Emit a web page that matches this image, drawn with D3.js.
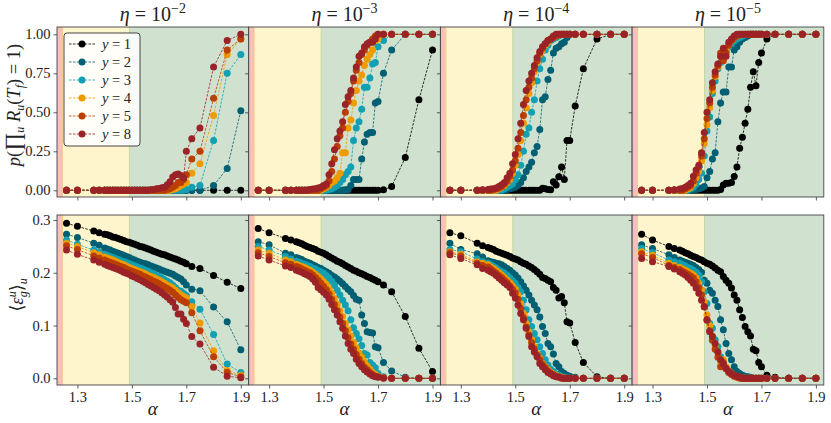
<!DOCTYPE html>
<html><head><meta charset="utf-8">
<script src="https://cdn.jsdelivr.net/npm/d3@7"></script>
<style>
body{margin:0;background:#fff}
svg{display:block}
text{font-family:"Liberation Serif","DejaVu Serif",serif;fill:#222}
</style>
</head><body>
<svg id="c" width="831" height="423"></svg>
<script>
// ---------------- DATA ----------------
const alpha = [1.26,1.30,1.36,1.38,1.40,1.41,1.42,1.43,1.44,1.45,1.46,1.47,1.48,1.49,1.50,1.51,1.52,1.53,1.54,1.55,1.56,1.57,1.58,1.59,1.60,1.61,1.62,1.63,1.64,1.65,1.66,1.67,1.68,1.69,1.70,1.72,1.75,1.80,1.85,1.90];
const yValues = [1,2,3,4,5,8];
const etaExponents = ["−2","−3","−4","−5"];
const xTicks = [1.3,1.5,1.7,1.9];
const pTicks = [0,0.25,0.5,0.75,1.0];
const eTicks = [0,0.1,0.2,0.3];

// top row: p(prod R_u = 1), eta = 1e-2
const pA1 = [0,0,0,0,0,0,0,0,0,0, 0,0,0,0,0,0,0,0,0,0, 0,0,0,0,0,0,0,0,0,0, 0,0,0,0,0,0,0,0,0,0];
const pA2 = [0,0,0,0,0,0,0,0,0,0, 0,0,0,0,0,0,0,0,0,0, 0,0,0,0,0,0,0,0,0,0, 0,0,0,0,0,0,0,0.03,0.14,0.51];
const pA3 = [0,0,0,0,0,0,0,0,0,0, 0,0,0,0,0,0,0,0,0,0, 0,0,0,0,0,0,0,0,0,0, 0,0,0,0,0.005,0.02,0.03,0.32,0.75,0.87];
const pA4 = [0,0,0,0,0,0,0,0,0,0, 0,0,0,0,0,0,0,0,0,0, 0,0,0,0,0,0,0,0,0,0.005, 0.01,0.02,0.03,0.04,0.05,0.11,0.17,0.48,0.87,0.97];
const pA5 = [0,0,0,0,0,0,0,0,0,0, 0,0,0,0,0,0,0,0,0,0, 0,0,0,0,0,0,0,0.005,0.01,0.02, 0.03,0.05,0.05,0.07,0.10,0.20,0.25,0.59,0.90,0.97];
const pA8 = [0,0,0,0,0,0,0,0,0,0, 0,0,0,0,0,0,0,0,0,0, 0,0.003,0.005,0.01,0.012,0.016,0.02,0.035,0.055,0.085, 0.10,0.105,0.095,0.08,0.25,0.33,0.40,0.79,0.96,1.00];
// eta = 1e-3
const pB1 = [0,0,0,0,0,0,0,0,0,0, 0,0,0,0,0,0,0,0,0,0, 0,0,0,0,0,0,0,0,0,0, 0,0,0,0,0,0.003,0.024,0.21,0.58,0.90];
const pB2 = [0,0,0,0,0,0,0,0,0,0, 0,0,0,0,0,0,0,0,0,0, 0,0,0.003,0.005,0.03,0.07,0.07,0.07,0.20,0.31, 0.36,0.37,0.37,0.56,0.57,0.75,0.90,1,1,1];
const pB3 = [0,0,0,0,0,0,0,0,0,0, 0,0,0,0,0,0,0.005,0.01,0.02,0.03, 0.05,0.07,0.10,0.12,0.15,0.32,0.40,0.44,0.52,0.66, 0.66,0.72,0.81,0.82,0.92,0.96,1,1,1,1];
const pB4 = [0,0,0,0,0,0,0,0,0,0, 0,0,0,0,0.01,0.02,0.03,0.05,0.06,0.08, 0.11,0.24,0.24,0.40,0.45,0.56,0.64,0.70,0.74,0.80, 0.84,0.87,0.90,0.96,0.97,1,1,1,1,1];
const pB5 = [0,0,0,0,0,0,0,0,0,0, 0,0,0,0.01,0.02,0.03,0.06,0.12,0.20,0.28, 0.35,0.40,0.50,0.57,0.62,0.70,0.77,0.82,0.87,0.90, 0.93,0.95,0.97,0.99,1,1,1,1,1,1];
const pB8 = [0,0,0,0,0,0,0,0,0,0.005, 0.008,0.01,0.015,0.02,0.03,0.04,0.10,0.17,0.26,0.33, 0.38,0.44,0.55,0.60,0.64,0.72,0.79,0.86,0.88,0.92, 0.94,0.95,0.95,0.97,1,1,1,1,1,1];
// eta = 1e-4
const pC1 = [0,0,0,0,0,0,0,0,0,0, 0,0,0,0,0,0,0,0,0,0, 0,0,0,0,0.013,0.010,0.005,0.003,0.055,0.034, 0.087,0.15,0.07,0.32,0.32,0.54,0.78,0.97,1,1];
const pC2 = [0,0,0,0,0,0,0,0,0,0, 0,0.005,0.01,0.015,0.02,0.03,0.05,0.08,0.12,0.15, 0.18,0.24,0.28,0.39,0.58,0.60,0.71,0.77,0.88,0.91, 0.92,0.94,0.95,0.98,1,1,1,1,1,1];
const pC3 = [0,0,0,0,0,0,0,0,0,0, 0.01,0.02,0.03,0.04,0.07,0.10,0.16,0.25,0.36,0.40, 0.50,0.58,0.70,0.78,0.84,0.90,0.93,0.96,0.97,0.98, 0.99,1,1,1,1,1,1,1,1,1];
const pC4 = [0,0,0,0,0,0,0,0,0.01,0.02, 0.03,0.05,0.07,0.11,0.16,0.23,0.32,0.43,0.53,0.62, 0.69,0.76,0.82,0.87,0.90,0.93,0.95,0.97,0.98,0.99, 1,1,1,1,1,1,1,1,1,1];
const pC5 = [0,0,0,0,0,0,0.005,0.01,0.015,0.025, 0.04,0.06,0.09,0.13,0.19,0.27,0.37,0.48,0.58,0.66, 0.72,0.78,0.83,0.88,0.91,0.94,0.96,0.97,0.98,0.99, 1,1,1,1,1,1,1,1,1,1];
const pC8 = [0,0,0,0.003,0.005,0.008,0.01,0.015,0.025,0.035, 0.05,0.08,0.11,0.17,0.23,0.33,0.43,0.55,0.64,0.70, 0.75,0.80,0.85,0.89,0.92,0.94,0.96,0.97,0.99,1, 1,1,1,1,1,1,1,1,1,1];
// eta = 1e-5
const pD1 = [0,0,0,0,0,0,0,0,0,0, 0,0,0,0,0,0,0,0,0,0.005, 0.034,0.045,0.045,0.05,0.088,0.15,0.27,0.34,0.43,0.52, 0.66,0.76,0.67,0.82,0.88,0.97,1,1,1,1];
const pD2 = [0,0,0,0,0,0,0,0,0,0, 0.005,0.01,0.015,0.025,0.08,0.12,0.20,0.24,0.44,0.56, 0.63,0.63,0.79,0.79,0.90,0.92,0.95,0.97,0.98,0.99, 1,1,1,1,1,1,1,1,1,1];
const pD3 = [0,0,0,0,0,0,0,0,0.01,0.02, 0.04,0.07,0.11,0.22,0.38,0.47,0.62,0.70,0.78,0.82, 0.86,0.89,0.92,0.94,0.96,0.97,0.98,0.99,0.995,1, 1,1,1,1,1,1,1,1,1,1];
const pD4 = [0,0,0,0,0,0,0,0.01,0.02,0.04, 0.08,0.12,0.19,0.30,0.42,0.53,0.64,0.73,0.79,0.86, 0.88,0.90,0.93,0.96,0.98,0.99,1,1,1,1, 1,1,1,1,1,1,1,1,1,1];
const pD5 = [0,0,0,0,0,0,0.01,0.02,0.03,0.06, 0.11,0.15,0.22,0.33,0.46,0.56,0.66,0.74,0.80,0.88, 0.83,0.88,0.93,0.96,0.98,0.99,1,1,1,1, 1,1,1,1,1,1,1,1,1,1];
const pD8 = [0,0,0,0.003,0.008,0.012,0.02,0.03,0.045,0.09, 0.13,0.16,0.24,0.37,0.50,0.58,0.69,0.76,0.81,0.86, 0.91,0.86,0.95,0.97,0.99,1,1,1,1,1, 1,1,1,1,1,1,1,1,1,1];

// bottom row: <eps_g^u>_u, eta = 1e-2
const eA1 = [0.294,0.288,0.279,0.276,0.273,0.272,0.270,0.268,0.267,0.265, 0.263,0.261,0.259,0.258,0.256,0.254,0.252,0.250,0.249,0.247, 0.245,0.243,0.241,0.239,0.237,0.235,0.234,0.232,0.230,0.228, 0.226,0.224,0.222,0.220,0.217,0.212,0.208,0.195,0.182,0.170];
const eA2 = [0.273,0.267,0.256,0.252,0.247,0.245,0.243,0.241,0.239,0.237, 0.235,0.233,0.231,0.229,0.226,0.224,0.222,0.220,0.218,0.217, 0.215,0.213,0.211,0.209,0.207,0.205,0.203,0.201,0.199,0.197, 0.194,0.191,0.188,0.183,0.177,0.169,0.166,0.135,0.107,0.054];
const eA3 = [0.262,0.254,0.243,0.239,0.235,0.233,0.231,0.229,0.227,0.225, 0.223,0.221,0.219,0.217,0.215,0.213,0.211,0.209,0.207,0.205, 0.203,0.200,0.198,0.195,0.193,0.190,0.187,0.184,0.181,0.177, 0.172,0.167,0.165,0.161,0.157,0.145,0.131,0.083,0.027,0.011];
const eA4 = [0.256,0.250,0.238,0.234,0.230,0.228,0.226,0.224,0.222,0.219, 0.217,0.215,0.213,0.210,0.208,0.206,0.204,0.202,0.200,0.198, 0.195,0.193,0.191,0.188,0.186,0.183,0.180,0.177,0.174,0.171, 0.167,0.162,0.158,0.155,0.152,0.136,0.105,0.052,0.015,0.006];
const eA5 = [0.251,0.244,0.232,0.228,0.224,0.222,0.220,0.218,0.216,0.214, 0.212,0.210,0.207,0.205,0.203,0.201,0.199,0.197,0.194,0.192, 0.189,0.187,0.184,0.182,0.179,0.176,0.173,0.170,0.167,0.163, 0.158,0.153,0.149,0.146,0.143,0.124,0.090,0.041,0.011,0.003];
const eA8 = [0.243,0.235,0.224,0.220,0.216,0.214,0.212,0.210,0.208,0.206, 0.204,0.201,0.199,0.197,0.194,0.192,0.189,0.187,0.184,0.181, 0.178,0.175,0.172,0.169,0.166,0.162,0.158,0.154,0.149,0.144, 0.134,0.122,0.122,0.112,0.104,0.079,0.065,0.021,0.004,0.001];
// eta = 1e-3
const eB1 = [0.284,0.276,0.265,0.262,0.259,0.257,0.255,0.252,0.250,0.248, 0.246,0.244,0.241,0.239,0.237,0.234,0.231,0.228,0.225,0.222, 0.220,0.217,0.214,0.211,0.208,0.205,0.203,0.200,0.198,0.196, 0.193,0.191,0.188,0.186,0.183,0.177,0.164,0.117,0.057,0.013];
const eB2 = [0.259,0.253,0.237,0.234,0.229,0.227,0.225,0.222,0.220,0.218, 0.215,0.213,0.210,0.208,0.205,0.202,0.199,0.195,0.192,0.188, 0.184,0.179,0.174,0.169,0.164,0.157,0.150,0.148,0.120,0.104, 0.088,0.087,0.086,0.060,0.058,0.030,0.014,0.002,0,0];
const eB3 = [0.250,0.243,0.231,0.226,0.222,0.220,0.218,0.216,0.214,0.212, 0.209,0.207,0.204,0.202,0.199,0.195,0.190,0.184,0.176,0.167, 0.158,0.148,0.139,0.128,0.111,0.096,0.085,0.075,0.062,0.047, 0.044,0.030,0.025,0.020,0.009,0.003,0,0,0,0];
const eB4 = [0.243,0.237,0.224,0.221,0.216,0.214,0.212,0.210,0.207,0.205, 0.201,0.197,0.193,0.188,0.183,0.178,0.170,0.161,0.151,0.140, 0.128,0.117,0.104,0.092,0.080,0.068,0.058,0.048,0.040,0.031, 0.024,0.017,0.011,0.007,0.004,0.001,0,0,0,0];
const eB5 = [0.238,0.231,0.219,0.216,0.212,0.210,0.207,0.205,0.202,0.200, 0.196,0.191,0.186,0.180,0.174,0.168,0.160,0.150,0.140,0.128, 0.116,0.104,0.090,0.077,0.065,0.055,0.045,0.036,0.028,0.021, 0.016,0.011,0.007,0.004,0.003,0.001,0,0,0,0];
const eB8 = [0.232,0.224,0.213,0.210,0.205,0.203,0.201,0.198,0.196,0.193, 0.188,0.182,0.172,0.168,0.163,0.158,0.150,0.140,0.130,0.120, 0.107,0.095,0.080,0.066,0.055,0.047,0.036,0.028,0.022,0.016, 0.012,0.008,0.005,0.003,0.002,0,0,0,0,0];
// eta = 1e-4
const eC1 = [0.276,0.270,0.256,0.251,0.248,0.246,0.244,0.241,0.239,0.237, 0.235,0.233,0.231,0.228,0.226,0.224,0.221,0.218,0.216,0.213, 0.210,0.206,0.202,0.197,0.191,0.189,0.186,0.183,0.172,0.167, 0.152,0.155,0.143,0.107,0.105,0.068,0.030,0.003,0,0];
const eC2 = [0.256,0.244,0.236,0.230,0.223,0.221,0.220,0.218,0.217,0.215, 0.212,0.208,0.205,0.200,0.196,0.190,0.183,0.175,0.167,0.158, 0.148,0.139,0.130,0.116,0.098,0.085,0.066,0.060,0.046,0.028, 0.022,0.013,0.009,0.006,0.004,0.002,0,0,0,0];
const eC3 = [0.244,0.240,0.226,0.221,0.218,0.215,0.212,0.209,0.205,0.202, 0.199,0.195,0.190,0.185,0.180,0.172,0.164,0.148,0.130,0.111, 0.098,0.085,0.073,0.060,0.047,0.035,0.025,0.017,0.013,0.008, 0.006,0.003,0.002,0,0,0,0,0,0,0];
const eC4 = [0.240,0.235,0.221,0.218,0.215,0.211,0.208,0.204,0.200,0.196, 0.191,0.186,0.181,0.175,0.169,0.158,0.142,0.123,0.104,0.088, 0.073,0.060,0.047,0.038,0.028,0.022,0.016,0.011,0.008,0.005, 0.003,0.002,0,0,0,0,0,0,0,0];
const eC5 = [0.238,0.232,0.218,0.214,0.211,0.207,0.203,0.199,0.195,0.191, 0.186,0.181,0.175,0.169,0.162,0.150,0.133,0.115,0.097,0.082, 0.068,0.056,0.044,0.035,0.026,0.020,0.014,0.010,0.007,0.004, 0.003,0.001,0,0,0,0,0,0,0,0];
const eC8 = [0.234,0.227,0.215,0.208,0.205,0.202,0.199,0.195,0.190,0.186, 0.181,0.177,0.172,0.161,0.152,0.139,0.123,0.111,0.095,0.079, 0.060,0.050,0.041,0.028,0.022,0.016,0.011,0.008,0.005,0.003, 0.002,0,0,0,0,0,0,0,0,0];
// eta = 1e-5
const eD1 = [0.273,0.262,0.250,0.246,0.243,0.241,0.238,0.236,0.233,0.231, 0.229,0.226,0.224,0.221,0.218,0.216,0.213,0.209,0.205,0.202, 0.193,0.186,0.180,0.171,0.158,0.148,0.130,0.115,0.098,0.088, 0.080,0.055,0.052,0.030,0.022,0.006,0.002,0,0,0];
const eD2 = [0.253,0.246,0.234,0.229,0.224,0.222,0.220,0.218,0.216,0.214, 0.210,0.206,0.201,0.186,0.180,0.167,0.161,0.148,0.136,0.111, 0.092,0.066,0.047,0.035,0.022,0.013,0.009,0.006,0.004,0.003, 0.002,0,0,0,0,0,0,0,0,0];
const eD3 = [0.246,0.238,0.224,0.221,0.218,0.215,0.213,0.210,0.208,0.205, 0.201,0.196,0.183,0.164,0.142,0.104,0.095,0.073,0.060,0.041, 0.028,0.019,0.013,0.009,0.006,0.003,0.002,0,0,0, 0,0,0,0,0,0,0,0,0,0];
const eD4 = [0.240,0.233,0.218,0.214,0.210,0.207,0.205,0.202,0.199,0.196, 0.190,0.180,0.168,0.145,0.120,0.100,0.080,0.062,0.050,0.030, 0.035,0.022,0.014,0.009,0.005,0.003,0.002,0,0,0, 0,0,0,0,0,0,0,0,0,0];
const eD5 = [0.236,0.229,0.214,0.210,0.206,0.203,0.200,0.197,0.194,0.190, 0.183,0.172,0.158,0.135,0.110,0.090,0.072,0.055,0.040,0.022, 0.030,0.018,0.011,0.007,0.004,0.002,0,0,0,0, 0,0,0,0,0,0,0,0,0,0];
const eD8 = [0.227,0.221,0.212,0.207,0.202,0.199,0.196,0.191,0.186,0.180, 0.171,0.161,0.148,0.136,0.111,0.088,0.079,0.066,0.050,0.035, 0.027,0.019,0.013,0.009,0.006,0.004,0.003,0,0,0, 0,0,0,0,0,0,0,0,0,0];

// ---------------- TABLES ----------------
const topRows = [[pA1,pA2,pA3,pA4,pA5,pA8],[pB1,pB2,pB3,pB4,pB5,pB8],[pC1,pC2,pC3,pC4,pC5,pC8],[pD1,pD2,pD3,pD4,pD5,pD8]];
const botRows = [[eA1,eA2,eA3,eA4,eA5,eA8],[eB1,eB2,eB3,eB4,eB5,eB8],[eC1,eC2,eC3,eC4,eC5,eC8],[eD1,eD2,eD3,eD4,eD5,eD8]];

// ---------------- STYLE ----------------
const colors = ["#000000","#005f73","#12a0b2","#ee9b00","#bb3e03","#9b2226"];
const regionColors = {red:"#f7c0b8", yellow:"#fff5cc", green:"#d0e2cf"};
const regionBounds = [1.245, 1.491];
const xDomain = [1.225, 1.929];
const pDomain = [-0.043, 1.047];
const eDomain = [-0.0127, 0.3095];
const L0 = 57, PW = 191.7;
const topY = [27, 197], botY = [215, 385];

const svg = d3.select("#c");
const defs = svg.append("defs");

function drawPanel(col, rowY, yDomain, series, isTop){
  const x0 = L0 + col*PW, x1 = x0 + PW;
  const x = d3.scaleLinear().domain(xDomain).range([x0, x1]);
  const y = d3.scaleLinear().domain(yDomain).range([rowY[1], rowY[0]]);
  const g = svg.append("g");
  const cid = "clip"+col+(isTop?"t":"b");
  defs.append("clipPath").attr("id",cid).append("rect")
    .attr("x",x0).attr("y",rowY[0]).attr("width",PW).attr("height",rowY[1]-rowY[0]);
  const body = g.append("g").attr("clip-path","url(#"+cid+")");
  // regions
  body.append("rect").attr("x",x(xDomain[0])).attr("y",rowY[0]).attr("width",x(regionBounds[0])-x(xDomain[0])).attr("height",rowY[1]-rowY[0]).attr("fill",regionColors.red);
  body.append("rect").attr("x",x(regionBounds[0])).attr("y",rowY[0]).attr("width",x(regionBounds[1])-x(regionBounds[0])).attr("height",rowY[1]-rowY[0]).attr("fill",regionColors.yellow);
  body.append("rect").attr("x",x(regionBounds[1])).attr("y",rowY[0]).attr("width",x(xDomain[1])-x(regionBounds[1])).attr("height",rowY[1]-rowY[0]).attr("fill",regionColors.green);
  body.append("line").attr("x1",x(regionBounds[0])).attr("x2",x(regionBounds[0])).attr("y1",rowY[0]).attr("y2",rowY[1]).attr("stroke","#f3c98e").attr("stroke-width",1);
  body.append("line").attr("x1",x(regionBounds[1])).attr("x2",x(regionBounds[1])).attr("y1",rowY[0]).attr("y2",rowY[1]).attr("stroke","#c7d6a0").attr("stroke-width",1);
  // series
  const line = d3.line().x((d,i)=>x(alpha[i])).y(d=>y(d));
  series.forEach((vals,si)=>{
    body.append("path").attr("d",line(vals)).attr("fill","none")
      .attr("stroke",colors[si]).attr("stroke-width",0.8).attr("stroke-dasharray","2.6,1.3");
    body.append("g").selectAll("circle").data(vals).join("circle")
      .attr("cx",(d,i)=>x(alpha[i])).attr("cy",d=>y(d)).attr("r",3.5)
      .attr("fill",colors[si]);
  });
  // axes
  const ax = g.append("g").attr("transform","translate(0,"+rowY[1]+")")
    .call(d3.axisBottom(x).tickValues(xTicks).tickSize(3.5).tickPadding(3)
      .tickFormat(isTop? ()=> "" : d3.format(".1f")));
  const ay = g.append("g").attr("transform","translate("+x0+",0)")
    .call(d3.axisLeft(y).tickValues(isTop?pTicks:eTicks).tickSize(3.5).tickPadding(3)
      .tickFormat(col===0 ? d3.format(isTop?".2f":".1f") : ()=>""));
  [ax,ay].forEach(a=>{
    a.select(".domain").remove();
    a.selectAll(".tick line").attr("stroke","#333").attr("stroke-width",0.8);
    a.selectAll(".tick text").attr("font-size",14.5).attr("fill","#222")
      .style("font-family",'"Liberation Serif","DejaVu Serif",serif');
  });
  // frame
  g.append("rect").attr("x",x0).attr("y",rowY[0]).attr("width",PW).attr("height",rowY[1]-rowY[0])
    .attr("fill","none").attr("stroke","#444").attr("stroke-width",0.9);
  return {x, y, x0, x1};
}

for(let c=0;c<4;c++){
  drawPanel(c, topY, pDomain, topRows[c], true);
  drawPanel(c, botY, eDomain, botRows[c], false);
  // title
  const cx = L0 + c*PW + PW/2;
  const tt = svg.append("text").attr("x",cx).attr("y",21).attr("text-anchor","middle").attr("font-size",20);
  tt.append("tspan").attr("font-style","italic").text("η");
  tt.append("tspan").text(" = 10");
  tt.append("tspan").attr("font-size",14).attr("dy",-8).text(etaExponents[c]);
  // x label
  svg.append("text").attr("x",cx).attr("y",415).attr("text-anchor","middle")
    .attr("font-size",19).attr("font-style","italic").text("α");
}

// y labels
const yl1 = svg.append("text").attr("transform","translate(20,105) rotate(-90)")
  .attr("text-anchor","middle").attr("font-size",18.5);
yl1.append("tspan").attr("font-style","italic").text("p");
yl1.append("tspan").text("(");
yl1.append("tspan").attr("font-size",22).text("∏");
yl1.append("tspan").attr("font-style","italic").attr("font-size",12).attr("dy",4).text("u");
yl1.append("tspan").attr("font-style","italic").attr("dy",-4).text(" R");
yl1.append("tspan").attr("font-style","italic").attr("font-size",12).attr("dy",4).text("u");
yl1.append("tspan").attr("dy",-4).text("(");
yl1.append("tspan").attr("font-style","italic").text("T");
yl1.append("tspan").attr("font-style","italic").attr("font-size",12).attr("dy",4).text("f");
yl1.append("tspan").attr("dy",-4).text(") = 1)");

const yl2 = svg.append("text").attr("transform","translate(23,295) rotate(-90)")
  .attr("text-anchor","middle").attr("font-size",18.5);
yl2.append("tspan").text("⟨");
yl2.append("tspan").attr("font-style","italic").text("ε");
yl2.append("tspan").attr("font-style","italic").attr("font-size",12).attr("dy",-7).text("u");
yl2.append("tspan").attr("font-style","italic").attr("font-size",12).attr("dx",-6).attr("dy",11).text("g");
yl2.append("tspan").attr("dy",-4).text("⟩");
yl2.append("tspan").attr("font-style","italic").attr("font-size",12).attr("dy",4).text("u");

// legend
const lg = svg.append("g");
lg.append("rect").attr("x",64).attr("y",33).attr("width",76).attr("height",113).attr("rx",3)
  .attr("fill","#fff").attr("fill-opacity",0.85).attr("stroke","#333").attr("stroke-width",0.9);
yValues.forEach((v,i)=>{
  const yy = 44 + i*18;
  lg.append("line").attr("x1",69).attr("x2",95).attr("y1",yy).attr("y2",yy)
    .attr("stroke",colors[i]).attr("stroke-width",0.8).attr("stroke-dasharray","2.6,1.3");
  lg.append("circle").attr("cx",82).attr("cy",yy).attr("r",3.5).attr("fill",colors[i]);
  const t = lg.append("text").attr("x",102).attr("y",yy+4.5).attr("font-size",14.5);
  t.append("tspan").attr("font-style","italic").text("y");
  t.append("tspan").text(" = "+v);
});
</script>
</body></html>
